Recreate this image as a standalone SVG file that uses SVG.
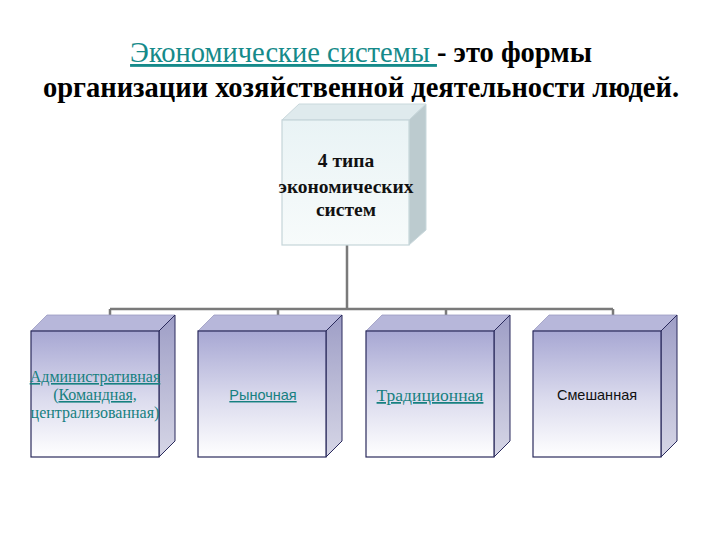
<svg xmlns="http://www.w3.org/2000/svg" width="720" height="540" viewBox="0 0 720 540">
<style>
.title{font-family:'Liberation Serif','Times New Roman','DejaVu Serif',serif;font-size:28.5px;font-weight:bold;fill:#000}
.link{fill:#158a8a;font-weight:normal;text-decoration:underline}
.topt{font-family:'Liberation Serif','DejaVu Serif',serif;font-size:19.5px;font-weight:bold;fill:#111;text-anchor:middle}
.ser{font-family:'Liberation Serif','DejaVu Serif',serif;font-size:16px;fill:#168080;text-anchor:middle}
.sans{font-family:'Liberation Sans',Arial,sans-serif;font-size:14.5px;text-anchor:middle}
.u{text-decoration:underline}
.bf{fill:url(#gFront);stroke:#2a2a5c;stroke-width:1.2}
.bt{fill:#b7b7da;stroke:#9a9ac0;stroke-width:0.8}
.bs{fill:url(#gSide);stroke:#2a2a5c;stroke-width:1}
.conn{fill:none;stroke:#7a7a7a;stroke-width:2.5}
</style>
<defs>
<linearGradient id="gFront" x1="0" y1="0" x2="0" y2="1">
<stop offset="0" stop-color="#a7a7d3"/>
<stop offset="0.55" stop-color="#dcdcee"/>
<stop offset="1" stop-color="#ffffff"/>
</linearGradient>
<linearGradient id="gSide" x1="0" y1="0" x2="0" y2="1">
<stop offset="0" stop-color="#9e9ec6"/>
<stop offset="1" stop-color="#d6d6e6"/>
</linearGradient>
<linearGradient id="gTopF" x1="0" y1="0" x2="0" y2="1">
<stop offset="0" stop-color="#e9f3f5"/>
<stop offset="1" stop-color="#f7fbfb"/>
</linearGradient>
</defs>

<text class="title" x="361" y="62" text-anchor="middle"><tspan class="link">Экономические системы </tspan>- это формы</text>
<text class="title" x="361" y="97" text-anchor="middle">организации хозяйственной деятельности людей.</text>

<g id="connectors">
<path class="conn" d="M347 245 V309 M110 309 H613 M110 309 V317 M278 309 V317 M446 309 V317 M613 309 V317"/>
</g>

<g id="node-top">
<polygon points="282,120 299,104 426,104 409,120" fill="#dfeaed" stroke="#c9d8dc" stroke-width="1"/>
<polygon points="409,120 426,104 426,230 409,245" fill="#bccbcf" stroke="#c9d8dc" stroke-width="1"/>
<rect x="282" y="120" width="127" height="125" fill="url(#gTopF)" stroke="#c5d5d9" stroke-width="1.2"/>
<text class="topt" x="346" y="167">4 типа</text>
<text class="topt" x="346" y="193">экономических</text>
<text class="topt" x="346" y="216">систем</text>
</g>

<g id="node-admin">
<polygon class="bt" points="31,331 47,315 175,315 159,331"/>
<polygon class="bs" points="159,331 175,315 175,441 159,457"/>
<rect class="bf" x="31" y="331" width="128" height="126"/>
<text class="ser" x="95" y="382"><tspan class="u">Административная</tspan></text>
<text class="ser" x="95" y="400">(<tspan class="u">Командная,</tspan></text>
<text class="ser" x="95" y="418">централизованная)</text>
</g>

<g id="node-market">
<polygon class="bt" points="198,331 214,315 342,315 326,331"/>
<polygon class="bs" points="326,331 342,315 342,441 326,457"/>
<rect class="bf" x="198" y="331" width="128" height="126"/>
<text class="sans u" x="263" y="400" fill="#168080">Рыночная</text>
</g>

<g id="node-trad">
<polygon class="bt" points="366,331 382,315 510,315 494,331"/>
<polygon class="bs" points="494,331 510,315 510,441 494,457"/>
<rect class="bf" x="366" y="331" width="128" height="126"/>
<text class="ser u" x="430" y="401" style="font-size:17.5px">Традиционная</text>
</g>

<g id="node-mixed">
<polygon class="bt" points="533,331 549,315 677,315 661,331"/>
<polygon class="bs" points="661,331 677,315 677,441 661,457"/>
<rect class="bf" x="533" y="331" width="128" height="126"/>
<text class="sans" x="597" y="400" fill="#111">Смешанная</text>
</g>
</svg>
